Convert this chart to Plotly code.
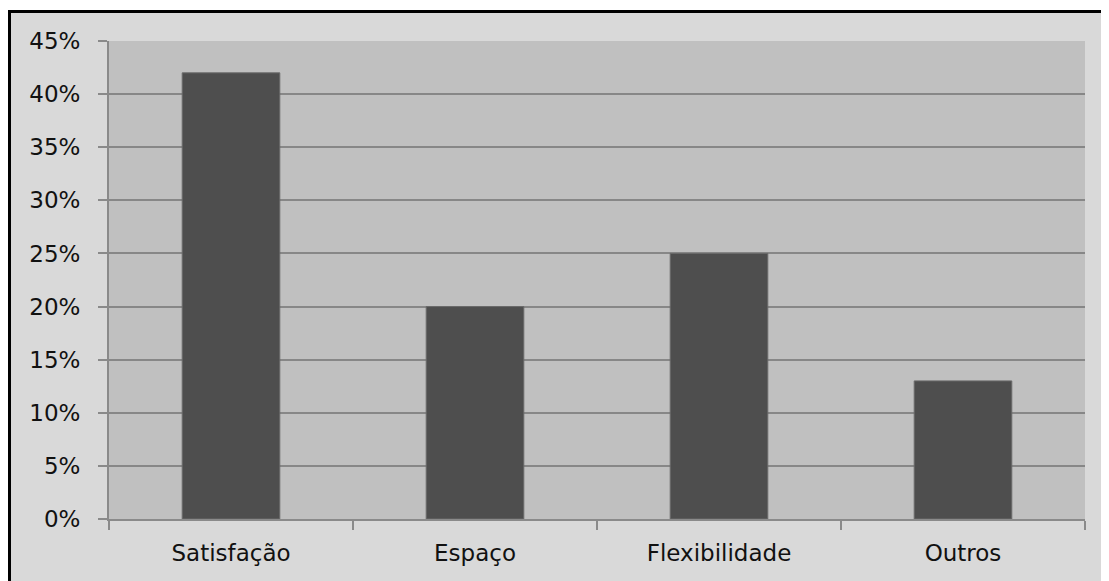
import plotly.graph_objects as go

categories = ["Satisfação", "Espaço", "Flexibilidade", "Outros"]
values = [0.42, 0.20, 0.25, 0.13]
y_ticks = [0, 0.05, 0.10, 0.15, 0.20, 0.25, 0.30, 0.35, 0.40, 0.45]
y_tick_labels = ["0%", "5%", "10%", "15%", "20%", "25%", "30%", "35%", "40%", "45%"]

# page body has an 8px default margin; figure drawn in its own coordinates
OFF = 8
W, H = 1109 - OFF, 581 - OFF
L, T = 109 - OFF, 41 - OFF
R = W - L - 976
B = H - (519 - OFF)
pw, ph = W - L - R, H - T - B

def px(x):
    return (x - OFF - L) / pw

def py(y):
    return (H - B - (y - OFF)) / ph

fig = go.Figure(go.Bar(
    x=categories, y=values,
    marker=dict(color="#4e4e4e", line=dict(color="#6a6a6a", width=1)),
    width=0.4,
))

font = dict(family="DejaVu Sans", size=23, color="#111111")

fig.update_layout(
    width=W, height=H,
    margin=dict(l=L, r=R, t=T, b=B, pad=0),
    paper_bgcolor="#d9d9d9",
    plot_bgcolor="#c0c0c0",
    showlegend=False,
    font=font,
    xaxis=dict(
        showgrid=False, showline=True, linecolor="#8a8a8a", linewidth=2,
        ticks="outside", ticklen=9, tickcolor="#8a8a8a", tickwidth=2,
        tickson="boundaries", ticklabelstandoff=12,
        tickfont=font,
    ),
    yaxis=dict(
        range=[0, 0.45], tickvals=y_ticks, ticktext=y_tick_labels,
        showgrid=True, gridcolor="#878787", gridwidth=1.5,
        showline=True, linecolor="#8a8a8a", linewidth=2,
        ticks="outside", ticklen=9, tickcolor="#8a8a8a", tickwidth=2,
        ticklabelstandoff=13, zeroline=False,
        tickfont=font,
    ),
    shapes=[
        dict(type="rect", xref="paper", yref="paper", x0=px(0), x1=px(8), y0=py(H + 20), y1=py(0),
             fillcolor="white", line=dict(width=0), layer="above"),
        dict(type="rect", xref="paper", yref="paper", x0=px(0), x1=px(W + 20), y0=py(10), y1=py(0),
             fillcolor="white", line=dict(width=0), layer="above"),
        dict(type="line", xref="paper", yref="paper", x0=px(9.5), x1=px(9.5), y0=py(10), y1=py(H + 20),
             line=dict(color="black", width=3), layer="above"),
        dict(type="line", xref="paper", yref="paper", x0=px(8), x1=px(W + 20), y0=py(11.5), y1=py(11.5),
             line=dict(color="black", width=3), layer="above"),
    ],
)

fig.write_html("out.html")
